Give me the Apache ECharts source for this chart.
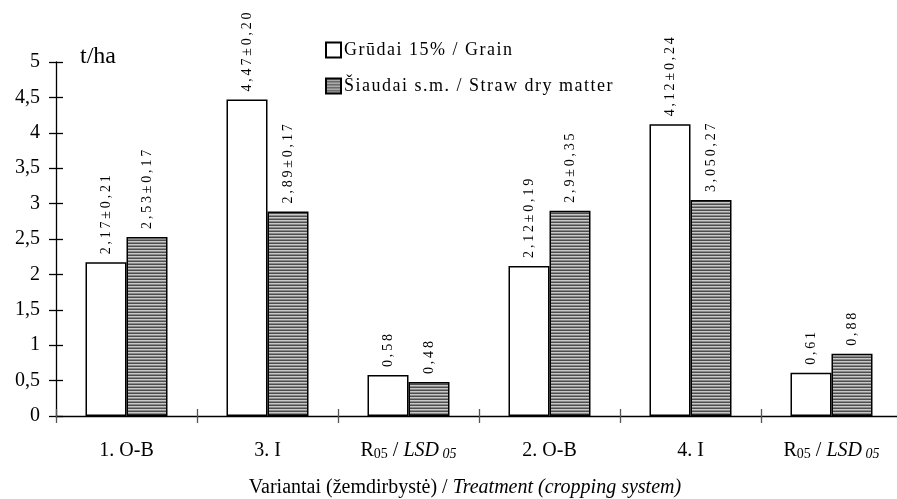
<!DOCTYPE html>
<html><head><meta charset="utf-8">
<script src="https://cdn.jsdelivr.net/npm/echarts@6/dist/echarts.min.js"></script>
<style>html,body{margin:0;padding:0;background:#fff}#c{width:897px;height:499px}</style>
</head><body><div id="c"></div>
<script>
const categories = ['1. O-B', '3. I', 'R05', '2. O-B', '4. I', 'R05'];
const grainValues = [2.17, 4.47, 0.58, 2.12, 4.12, 0.61];
const strawValues = [2.53, 2.89, 0.48, 2.9, 3.05, 0.88];
const grainLabels = ['2,17±0,21', '4,47±0,20', '0,58', '2,12±0,19', '4,12±0,24', '0,61'];
const strawLabels = ['2,53±0,17', '2,89±0,17', '0,48', '2,9±0,35', '3,050,27', '0,88'];
const yTicks = [0, 0.5, 1, 1.5, 2, 2.5, 3, 3.5, 4, 4.5, 5];
const seriesNames = ['Grūdai 15% / Grain', 'Šiaudai s.m. / Straw dry matter'];

const FONT = '"Liberation Serif", "Times New Roman", serif';
function spaced(s, sp) { return Array.from(s).join(sp); }

// hatch pattern
const pc = document.createElement('canvas');
pc.width = 6; pc.height = 3;
const pctx = pc.getContext('2d');
pctx.fillStyle = '#4d4d4d'; pctx.fillRect(0, 0, 6, 1);
pctx.fillStyle = '#c8c8c8'; pctx.fillRect(0, 1, 6, 1);
pctx.fillStyle = '#8a8a8a'; pctx.fillRect(0, 2, 6, 1);
const hatch = { image: pc, repeat: 'repeat' };

const chart = echarts.init(document.getElementById('c'), null, { renderer: 'canvas' });

function catFmt(v) {
  if (v === 'R05') return '{r|R}{s|05}{r| / }{i|LSD}{si| 05}';
  return '{r|' + v + '}';
}
const catRich = {
  r: { fontFamily: FONT, fontSize: 20, color: '#000', lineHeight: 24, verticalAlign: 'bottom' },
  s: { fontFamily: FONT, fontSize: 14, color: '#000', lineHeight: 20, verticalAlign: 'bottom' },
  i: { fontFamily: FONT, fontSize: 20, fontStyle: 'italic', color: '#000', lineHeight: 24, verticalAlign: 'bottom' },
  si: { fontFamily: FONT, fontSize: 14, fontStyle: 'italic', color: '#000', lineHeight: 10, verticalAlign: 'bottom' }
};

const labelCommon = {
  show: true, position: 'top', rotate: 90, align: 'left', verticalAlign: 'middle',
  distance: 8, fontFamily: FONT, fontSize: 14, color: '#000'
};

chart.setOption({
  animation: false,
  backgroundColor: '#fff',
  grid: { left: 56, top: 62, width: 846, height: 354, containLabel: false, outerBoundsMode: 'none' },
  legend: {
    orient: 'vertical', left: 320, top: 36, itemWidth: 15, itemHeight: 15, itemGap: 18,
    icon: 'rect',
    data: seriesNames,
    formatter: n => spaced(n, '\u200A'),
    textStyle: { fontFamily: FONT, fontSize: 18, color: '#000', padding: [0, 0, 0, -2] }
  },
  xAxis: [{
    type: 'category', data: categories, position: 'bottom',
    axisLine: { onZero: false, lineStyle: { color: '#000', width: 1.3 } },
    axisTick: { show: true, length: 7, lineStyle: { color: '#555', width: 1.3 } },
    axisLabel: { margin: 21, interval: 0, formatter: catFmt, rich: catRich },
    name: '{n|Variantai (žemdirbystė) / }{i|Treatment (cropping system)}',
    nameLocation: 'middle', nameGap: 62,
    nameTextStyle: {
      padding: [0, 28, 0, 0],
      rich: {
        n: { fontFamily: FONT, fontSize: 20, color: '#000' },
        i: { fontFamily: FONT, fontSize: 20, fontStyle: 'italic', color: '#000' }
      }
    },
    splitLine: { show: false }
  }, {
    type: 'category', data: categories, position: 'bottom', gridIndex: 0,
    axisLine: { show: false },
    axisTick: { show: true, inside: true, length: 7, lineStyle: { color: '#555', width: 1.3 } },
    axisLabel: { show: false }, splitLine: { show: false }
  }],
  yAxis: [{
    type: 'value', min: yTicks[0], max: yTicks[yTicks.length - 1], interval: 0.5,
    axisLine: { show: true, lineStyle: { color: '#000', width: 1.3 } },
    axisTick: { show: true, length: 7, lineStyle: { color: '#000', width: 1.3 } },
    axisLabel: {
      margin: 16, fontFamily: FONT, fontSize: 20, color: '#000',
      formatter: v => String(v).replace('.', ',')
    },
    splitLine: { show: false }
  }, {
    type: 'value', min: yTicks[0], max: yTicks[yTicks.length - 1], interval: 0.5, position: 'left',
    axisLine: { show: false },
    axisTick: { show: true, inside: true, length: 7, lineStyle: { color: '#000', width: 1.3 } },
    axisLabel: { show: false }, splitLine: { show: false }
  }],
  graphic: [{
    type: 'text', left: 80, top: 45,
    style: { text: 't/ha', fontFamily: FONT, fontSize: 24, fill: '#000' }
  }],
  series: [{
    name: seriesNames[0], type: 'bar', data: grainValues,
    barWidth: 41, barGap: '0%',
    itemStyle: { color: '#fff', borderColor: '#000', borderWidth: 1.5 },
    label: Object.assign({}, labelCommon, { formatter: p => spaced(grainLabels[p.dataIndex], '\u2009') })
  }, {
    name: seriesNames[1], type: 'bar', data: strawValues,
    barWidth: 41, barGap: '0%',
    itemStyle: { color: hatch, borderColor: '#000', borderWidth: 1.5 },
    label: Object.assign({}, labelCommon, { formatter: p => spaced(strawLabels[p.dataIndex], '\u2009') })
  }]
});
</script></body></html>
